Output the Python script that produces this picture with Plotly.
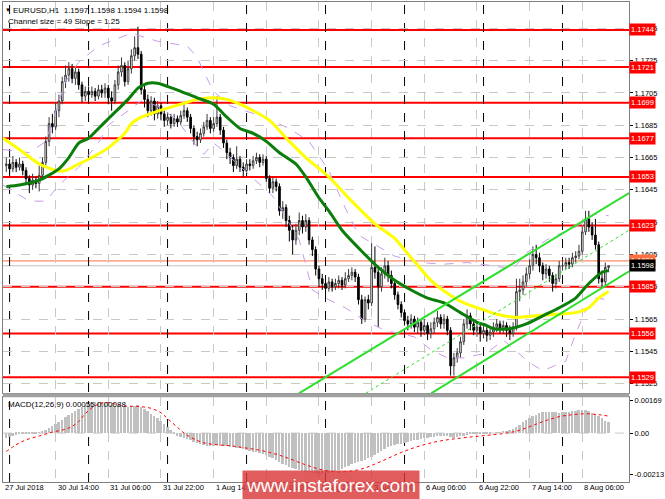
import plotly.graph_objects as go

# ---------------- data ----------------
first_open = 1.1660
closes = [
    1.1661, 1.1658, 1.1662, 1.1659, 1.1661, 1.1657, 1.1652, 1.1648, 1.1651, 1.1649,
    1.1654, 1.1662, 1.1675, 1.1686, 1.1684, 1.1694, 1.1700, 1.1712, 1.1716, 1.1720,
    1.1714, 1.1718, 1.1710, 1.1703, 1.1706, 1.1704, 1.1706, 1.1703, 1.1707, 1.1705,
    1.1708, 1.1702, 1.1700, 1.1710, 1.1718, 1.1722, 1.1712, 1.1720, 1.1728, 1.1733,
    1.1729, 1.1707, 1.1701, 1.1694, 1.1700, 1.1692, 1.1697, 1.1692, 1.1688, 1.1690,
    1.1686, 1.1689, 1.1687, 1.1691, 1.1694, 1.1690, 1.1683, 1.1678, 1.1676, 1.1680,
    1.1684, 1.1688, 1.1683, 1.1686, 1.1690, 1.1682, 1.1674, 1.1668, 1.1665, 1.1660,
    1.1664, 1.1659, 1.1657, 1.1661, 1.1660, 1.1663, 1.1665, 1.1662, 1.1664, 1.1652,
    1.1646, 1.1650, 1.1647, 1.1632, 1.1634, 1.1626, 1.1620, 1.1614, 1.1620, 1.1626,
    1.1622, 1.1626, 1.1614, 1.1608, 1.1596, 1.1590, 1.1587, 1.1584, 1.1588, 1.1585,
    1.1587, 1.1589, 1.1586, 1.1590, 1.1592, 1.1594, 1.1591, 1.1577, 1.1565, 1.1577,
    1.1575, 1.1597, 1.1594, 1.1585, 1.1593, 1.1598, 1.1592, 1.1587, 1.1580, 1.1574,
    1.1569, 1.1564, 1.1562, 1.1565, 1.1560, 1.1563, 1.1558, 1.1561, 1.1556, 1.1559,
    1.1563, 1.1566, 1.1562, 1.1565, 1.1558, 1.1536, 1.1541, 1.1544, 1.1551, 1.1562,
    1.1567, 1.1562, 1.1558, 1.1560, 1.1556, 1.1558, 1.1555, 1.1557, 1.1560, 1.1562,
    1.1559, 1.1561, 1.1558, 1.1556, 1.1560, 1.1582, 1.1583, 1.1588, 1.1593, 1.1598,
    1.1605, 1.1603, 1.1598, 1.1593, 1.1596, 1.1592, 1.1587, 1.1590, 1.1598, 1.1598,
    1.1600, 1.1599, 1.1603, 1.1604, 1.1607, 1.1619, 1.1627, 1.1622, 1.1617, 1.1611,
    1.1590, 1.1588, 1.1597, 1.1598,
]
highs = [
    1.1665, 1.1664, 1.1666, 1.1664, 1.1665, 1.1663, 1.1659, 1.1654, 1.1655, 1.1653,
    1.1660, 1.1665, 1.1678, 1.1690, 1.1692, 1.1699, 1.1704, 1.1715, 1.1722, 1.1724,
    1.1723, 1.1721, 1.1720, 1.1712, 1.1709, 1.1709, 1.1709, 1.1708, 1.1710, 1.1710,
    1.1711, 1.1710, 1.1706, 1.1713, 1.1722, 1.1727, 1.1724, 1.1725, 1.1732, 1.1740,
    1.1746, 1.1731, 1.1710, 1.1704, 1.1703, 1.1702, 1.1700, 1.1699, 1.1694, 1.1693,
    1.1692, 1.1692, 1.1691, 1.1694, 1.1698, 1.1696, 1.1692, 1.1685, 1.1681, 1.1683,
    1.1687, 1.1692, 1.1690, 1.1690, 1.1703, 1.1692, 1.1684, 1.1676, 1.1671, 1.1667,
    1.1672, 1.1666, 1.1662, 1.1664, 1.1664, 1.1666, 1.1668, 1.1667, 1.1667, 1.1666,
    1.1654, 1.1653, 1.1652, 1.1649, 1.1638, 1.1636, 1.1629, 1.1623, 1.1624, 1.1631,
    1.1629, 1.1630, 1.1628, 1.1616, 1.1610, 1.1598, 1.1593, 1.1590, 1.1591, 1.1590,
    1.1590, 1.1592, 1.1591, 1.1594, 1.1596, 1.1597, 1.1596, 1.1593, 1.1580, 1.1579,
    1.1580, 1.1612, 1.1610, 1.1598, 1.1597, 1.1603, 1.1601, 1.1595, 1.1589, 1.1582,
    1.1576, 1.1571, 1.1567, 1.1568, 1.1567, 1.1566, 1.1565, 1.1565, 1.1563, 1.1563,
    1.1566, 1.1570, 1.1568, 1.1568, 1.1567, 1.1560, 1.1544, 1.1547, 1.1554, 1.1565,
    1.1571, 1.1569, 1.1564, 1.1563, 1.1562, 1.1561, 1.1560, 1.1560, 1.1563, 1.1565,
    1.1564, 1.1564, 1.1563, 1.1561, 1.1563, 1.1590, 1.1590, 1.1592, 1.1597, 1.1602,
    1.1610, 1.1611, 1.1606, 1.1600, 1.1599, 1.1598, 1.1594, 1.1593, 1.1601, 1.1602,
    1.1603, 1.1603, 1.1606, 1.1607, 1.1611, 1.1623, 1.1632, 1.1632, 1.1625, 1.1627,
    1.1613, 1.1595, 1.1600, 1.1598,
]
lows = [
    1.1656, 1.1655, 1.1656, 1.1656, 1.1657, 1.1654, 1.1649, 1.1643, 1.1645, 1.1646,
    1.1644, 1.1651, 1.1660, 1.1672, 1.1680, 1.1682, 1.1690, 1.1698, 1.1708, 1.1712,
    1.1711, 1.1710, 1.1707, 1.1699, 1.1700, 1.1701, 1.1702, 1.1700, 1.1701, 1.1702,
    1.1702, 1.1698, 1.1694, 1.1698, 1.1707, 1.1715, 1.1709, 1.1710, 1.1717, 1.1725,
    1.1726, 1.1704, 1.1696, 1.1690, 1.1691, 1.1688, 1.1689, 1.1688, 1.1684, 1.1685,
    1.1683, 1.1684, 1.1684, 1.1685, 1.1689, 1.1687, 1.1680, 1.1673, 1.1672, 1.1674,
    1.1678, 1.1682, 1.1680, 1.1681, 1.1684, 1.1679, 1.1671, 1.1664, 1.1661, 1.1656,
    1.1658, 1.1656, 1.1653, 1.1655, 1.1657, 1.1658, 1.1661, 1.1659, 1.1660, 1.1650,
    1.1643, 1.1643, 1.1644, 1.1629, 1.1627, 1.1622, 1.1613, 1.1605, 1.1611, 1.1617,
    1.1618, 1.1619, 1.1611, 1.1604, 1.1592, 1.1585, 1.1583, 1.1581, 1.1582, 1.1582,
    1.1583, 1.1584, 1.1583, 1.1584, 1.1588, 1.1589, 1.1588, 1.1574, 1.1562, 1.1563,
    1.1571, 1.1573, 1.1590, 1.1560, 1.1582, 1.1590, 1.1588, 1.1584, 1.1577, 1.1571,
    1.1566, 1.1561, 1.1558, 1.1559, 1.1557, 1.1556, 1.1554, 1.1555, 1.1552, 1.1553,
    1.1556, 1.1560, 1.1559, 1.1559, 1.1555, 1.1530, 1.1530, 1.1538, 1.1541, 1.1549,
    1.1559, 1.1558, 1.1555, 1.1554, 1.1551, 1.1553, 1.1551, 1.1552, 1.1554, 1.1557,
    1.1556, 1.1556, 1.1554, 1.1552, 1.1554, 1.1558, 1.1576, 1.1580, 1.1585, 1.1590,
    1.1595, 1.1599, 1.1594, 1.1589, 1.1590, 1.1588, 1.1582, 1.1584, 1.1588, 1.1595,
    1.1596, 1.1596, 1.1597, 1.1600, 1.1602, 1.1605, 1.1617, 1.1619, 1.1614, 1.1608,
    1.1587, 1.1584, 1.1586, 1.1594,
]

# moving averages (bar index, price)
green_ma_bars = [0, 4, 10, 16, 19, 22, 25, 28, 31, 34, 37, 40, 43, 46, 53, 58, 63, 67, 71, 75, 79,
                 83, 88, 91, 95, 98, 102, 108, 113, 118, 123, 128, 133, 138, 143, 146, 148, 153,
                 158, 163, 168, 173, 177, 181, 183]
green_ma_vals = [1.1647, 1.1648, 1.1651, 1.1658, 1.1665, 1.1674, 1.1677, 1.1683, 1.1689, 1.1695,
                 1.1701, 1.1708, 1.1711, 1.1711, 1.1706, 1.1702, 1.1698, 1.1690, 1.1683, 1.1680,
                 1.1675, 1.1668, 1.1661, 1.1653, 1.1640, 1.1632, 1.1620, 1.1607, 1.1597, 1.1589,
                 1.1583, 1.1578, 1.1575, 1.1569, 1.1563, 1.1561, 1.1559, 1.1559, 1.1562, 1.1567,
                 1.1572, 1.1578, 1.1587, 1.1594, 1.1595]
yellow_ma_bars = [-1, 4, 10, 15, 18, 22, 26, 31, 36, 38, 41, 45, 48, 53, 58, 63, 67, 71, 75, 80,
                  86, 91, 98, 104, 112, 118, 123, 129, 134, 139, 146, 149, 155, 161, 167, 173,
                  177, 180, 183]
yellow_ma_vals = [1.1677, 1.1670, 1.1661, 1.1657, 1.1657, 1.1661, 1.1665, 1.1671, 1.1680, 1.1686,
                  1.1690, 1.1693, 1.1695, 1.1698, 1.1701, 1.1702, 1.1701, 1.1698, 1.1694, 1.1688,
                  1.1675, 1.1665, 1.1653, 1.1640, 1.1624, 1.1615, 1.1603, 1.1589, 1.1581, 1.1575,
                  1.1570, 1.1568, 1.1566, 1.1567, 1.1568, 1.1569, 1.1572, 1.1578, 1.1582]
band_up_bars = [-1, 7, 12, 15, 18, 22, 25, 28, 38, 46, 55, 58, 61, 63, 68, 77, 86, 92, 98, 102,
                107, 112, 118, 125, 133, 140, 148, 154, 158, 165, 173, 179, 183]
band_up_vals = [1.1670, 1.1668, 1.1675, 1.1694, 1.1712, 1.1724, 1.1729, 1.1734, 1.1742, 1.1737,
                1.1734, 1.1727, 1.1714, 1.1706, 1.1697, 1.1691, 1.1683, 1.1675, 1.1657, 1.1638,
                1.1617, 1.1611, 1.1604, 1.1600, 1.1599, 1.1600, 1.1598, 1.1596, 1.1606, 1.1615,
                1.1622, 1.1630, 1.1629]
band_lo_bars = [-1, 7, 12, 16, 22, 28, 31, 37, 41, 46, 52, 57, 60, 63, 66, 74, 81, 89, 93, 98,
                103, 109, 115, 124, 129, 134, 139, 146, 151, 159, 163, 170, 173, 176, 179, 183]
band_lo_vals = [1.1648, 1.1638, 1.1638, 1.1648, 1.1659, 1.1674, 1.1685, 1.1694, 1.1700, 1.1697,
                1.1688, 1.1674, 1.1667, 1.1674, 1.1669, 1.1654, 1.1641, 1.1614, 1.1583, 1.1577,
                1.1572, 1.1564, 1.1558, 1.1554, 1.1546, 1.1541, 1.1541, 1.1544, 1.1552, 1.1538,
                1.1533, 1.1539, 1.1556, 1.1570, 1.1578, 1.1577]

# equidistant channel (two anchor points per line)
chan_up_bars, chan_up_vals = [88.9, 189.2], [1.1519, 1.1643]
chan_mid_bars, chan_mid_vals = [109.2, 189.2], [1.1519, 1.1620]
chan_lo_bars, chan_lo_vals = [129.1, 189.2], [1.1519, 1.15946]

levels = [1.1744, 1.1721, 1.1699, 1.1677, 1.1653, 1.1623, 1.1585, 1.1556, 1.1529]
orange_level = 1.1601
bid_level = 1.1598
price_ticks = [1.1525, 1.1545, 1.1565, 1.1585, 1.1605, 1.1625, 1.1645, 1.1665, 1.1685,
               1.1705, 1.1725, 1.1745]

# MACD histogram (x1e-5)
macd_hist = [
    -25, -20, -15, -10, -8, -5, -6, -4, -3, -2,
    2, 8, 15, 25, 35, 45, 55, 65, 80, 95,
    105, 115, 125, 135, 142, 150, 155, 158, 160, 158,
    155, 150, 145, 140, 138, 135, 133, 135, 138, 140,
    142, 135, 125, 115, 100, 90, 75, 60, 45, 30,
    15, -5, -15, -22, -28, -32, -38, -45, -52, -58,
    -62, -65, -66, -65, -64, -66, -68, -70, -72, -75,
    -78, -80, -84, -88, -92, -96, -100, -105, -110, -115,
    -122, -130, -140, -150, -160, -168, -175, -182, -188, -192,
    -196, -200, -203, -206, -208, -210, -210, -208, -205, -200,
    -195, -190, -185, -178, -170, -162, -155, -150, -145, -138,
    -130, -122, -112, -102, -92, -82, -75, -68, -62, -58,
    -55, -50, -46, -42, -38, -34, -30, -27, -25, -22,
    -20, -18, -16, -15, -14, -20, -24, -22, -18, -14,
    -10, -8, -6, -5, -4, -3, -2, -1, 0, 2,
    4, 6, 10, 14, 20, 30, 42, 55, 65, 75,
    85, 95, 102, 108, 110, 110, 108, 106, 105, 106,
    108, 110, 112, 115, 118, 120, 118, 112, 105, 98,
    88, 75, 62, 55,
]
signal_bars = [0, 3, 6, 10, 14, 18, 20, 22, 24, 26, 28, 30, 33, 36, 40, 44, 47, 49, 52, 54, 57,
               60, 64, 68, 72, 76, 80, 84, 88, 92, 96, 100, 104, 108, 112, 116, 120, 124, 128,
               132, 136, 140, 144, 148, 152, 156, 160, 164, 168, 172, 176, 180, 183]
signal_vals = [-95, -60, -35, -15, 5, 20, 35, 60, 100, 130, 150, 158, 150, 140, 138, 128, 105, 75,
               30, 0, -30, -50, -60, -65, -75, -85, -100, -120, -145, -170, -190, -200, -198,
               -185, -160, -130, -100, -75, -55, -40, -30, -22, -15, -8, 0, 15, 40, 65, 85, 95,
               100, 95, 88]

tick_bars = [-1, 15, 31, 47, 63, 79, 95, 111, 127, 143, 159, 175]
tick_text = ["27 Jul 2018", "30 Jul 14:00", "31 Jul 06:00", "31 Jul 22:00", "1 Aug 14:00",
             "2 Aug 06:00", "2 Aug 22:00", "3 Aug 14:00", "6 Aug 06:00", "6 Aug 22:00",
             "7 Aug 14:00", "8 Aug 06:00"]
day_bars = [1, 25, 49, 73, 97, 121, 145, 169]

# ---------------- figure ----------------
FONT = "Liberation Sans, Arial, sans-serif"
n = min(len(closes), len(highs), len(lows))
bars = list(range(n))
opens = [first_open] + closes[:n - 1]

fig = go.Figure()

for bx, vy in [(band_up_bars, band_up_vals), (band_lo_bars, band_lo_vals)]:
    fig.add_trace(go.Scatter(x=bx, y=vy, mode="lines",
                             line=dict(color="#c89be8", width=1, dash="dash"), hoverinfo="skip",
                             showlegend=False, xaxis="x", yaxis="y"))

fig.add_trace(go.Candlestick(
    x=bars, open=opens, high=highs[:n], low=lows[:n], close=closes[:n],
    increasing=dict(line=dict(color="#3a3a3a", width=1), fillcolor="white"),
    decreasing=dict(line=dict(color="black", width=1), fillcolor="black"),
    whiskerwidth=0, showlegend=False, xaxis="x", yaxis="y", hoverinfo="skip"))

fig.add_trace(go.Scatter(x=yellow_ma_bars, y=yellow_ma_vals, mode="lines",
                         line=dict(color="#ffff00", width=3, shape="spline", smoothing=0.6),
                         showlegend=False, xaxis="x", yaxis="y", hoverinfo="skip"))
fig.add_trace(go.Scatter(x=green_ma_bars, y=green_ma_vals, mode="lines",
                         line=dict(color="#0a7d0a", width=3, shape="spline", smoothing=0.6),
                         showlegend=False, xaxis="x", yaxis="y", hoverinfo="skip"))

for bx, vy, dash, w in [(chan_up_bars, chan_up_vals, "solid", 2),
                        (chan_lo_bars, chan_lo_vals, "solid", 2),
                        (chan_mid_bars, chan_mid_vals, "dot", 1)]:
    fig.add_trace(go.Scatter(x=bx, y=vy, mode="lines",
                             line=dict(color="#2ee02e", width=w, dash=dash),
                             showlegend=False, xaxis="x", yaxis="y", hoverinfo="skip"))

fig.add_trace(go.Bar(x=list(range(len(macd_hist))), y=[v * 1e-5 for v in macd_hist],
                     marker=dict(color="#c0c0c0", line=dict(width=0)), width=0.6,
                     showlegend=False, xaxis="x2", yaxis="y2", hoverinfo="skip"))
fig.add_trace(go.Scatter(x=signal_bars, y=[v * 1e-5 for v in signal_vals], mode="lines",
                         line=dict(color="#ff0000", width=1, dash="dot", shape="spline"),
                         showlegend=False, xaxis="x2", yaxis="y2", hoverinfo="skip"))

shapes = []
for lv in levels:
    shapes.append(dict(type="line", xref="paper", x0=0, x1=1, yref="y", y0=lv, y1=lv,
                       line=dict(color="#ff0000", width=2), layer="below"))
shapes.append(dict(type="line", xref="paper", x0=0, x1=1, yref="y", y0=orange_level,
                   y1=orange_level, line=dict(color="#ff7040", width=1), layer="below"))
shapes.append(dict(type="line", xref="paper", x0=0, x1=1, yref="y", y0=bid_level,
                   y1=bid_level, line=dict(color="#c0c0c0", width=1), layer="below"))
for db in day_bars:
    shapes.append(dict(type="line", xref="x", x0=db, x1=db, yref="paper", y0=0, y1=1,
                       line=dict(color="black", width=1, dash="dash"), layer="below"))
shapes.append(dict(type="line", xref="paper", x0=0, x1=1, yref="y2", y0=0, y1=0,
                   line=dict(color="#c8c8c8", width=1, dash="dash"), layer="below"))
shapes.append(dict(type="rect", xref="paper", x0=0, x1=1, yref="paper", y0=0.1767, y1=0.185,
                   fillcolor="#a0a0a0", line=dict(width=0), layer="above"))

LBL = dict(family=FONT, size=7.5, color="white")
annotations = []
for lv in levels:
    annotations.append(dict(xref="paper", x=1, xanchor="left", xshift=0, yref="y", y=lv,
                            text=f"{lv:.4f}", showarrow=False, bgcolor="#ff0000",
                            font=LBL, borderpad=1))
annotations.append(dict(xref="paper", x=1, xanchor="left", xshift=0, yref="y", y=orange_level,
                        text=f"{orange_level:.4f}", showarrow=False, bgcolor="#ff7040",
                        font=LBL, borderpad=1))
annotations.append(dict(xref="paper", x=1, xanchor="left", xshift=0, yref="y", y=bid_level,
                        text=f"{bid_level:.4f}", showarrow=False, bgcolor="#000000",
                        font=LBL, borderpad=1))
for tb, tt in zip(tick_bars, tick_text):
    annotations.append(dict(xref="x", x=tb, xanchor="left", xshift=0, yref="paper", y=0,
                            yanchor="top", yshift=1, text=tt, showarrow=False,
                            font=dict(family=FONT, size=7.5, color="black")))
annotations.append(dict(xref="paper", x=0, xanchor="left", xshift=0, yref="paper", y=1,
                        yanchor="top", yshift=-3, text="▼", showarrow=False,
                        font=dict(family=FONT, size=6, color="black")))
annotations.append(dict(xref="paper", x=0, xanchor="left", xshift=8, yref="paper", y=1,
                        yanchor="top", yshift=-2,
                        text="EURUSD,H1  1.1597 1.1598 1.1594 1.1598", showarrow=False,
                        font=dict(family=FONT, size=8, color="black")))
annotations.append(dict(xref="paper", x=0, xanchor="left", xshift=3, yref="paper", y=1,
                        yanchor="top", yshift=-13, text="Channel size = 49 Slope = 1.25",
                        showarrow=False, font=dict(family=FONT, size=8, color="black")))
annotations.append(dict(xref="paper", x=0, xanchor="left", xshift=3, yref="paper", y=0.1767,
                        yanchor="top", yshift=-1, text="MACD(12,26,9) 0.00055 0.00088",
                        showarrow=False, font=dict(family=FONT, size=8, color="black")))
annotations.append(dict(xref="paper", x=0.5247, xanchor="center", yref="paper", y=-0.0062,
                        yanchor="middle", text="www.instaforex.com", showarrow=False,
                        width=176, height=28, bgcolor="rgba(218,56,56,0.82)", borderpad=0,
                        font=dict(family=FONT, size=19, color="white")))

axis_common = dict(range=[-1, 189.2], showticklabels=False, tickvals=tick_bars,
                   showgrid=True, gridcolor="#c8c8c8", griddash="dash", gridwidth=1,
                   zeroline=False, showline=True, linecolor="#808080", mirror=True, ticks="")

fig.update_layout(
    width=665, height=499,
    margin=dict(l=3, r=33, t=1, b=17),
    paper_bgcolor="white", plot_bgcolor="white",
    showlegend=False, bargap=0,
    font=dict(family=FONT, size=8, color="black"),
    xaxis=dict(domain=[0, 1], anchor="y", rangeslider=dict(visible=False), **axis_common),
    xaxis2=dict(domain=[0, 1], anchor="y2", matches="x", **axis_common),
    yaxis=dict(domain=[0.185, 1], range=[1.15191, 1.17613], side="right",
               tickvals=price_ticks, ticktext=[f"{v:.4f}" for v in price_ticks],
               tickfont=dict(family=FONT, size=7.5, color="black"), ticks="outside",
               ticklen=3, tickcolor="black", showgrid=True, gridcolor="#c8c8c8",
               griddash="dash", zeroline=False, showline=True, linecolor="#808080",
               mirror=True),
    yaxis2=dict(domain=[0, 0.1767], range=[-0.002526, 0.001856], side="right",
                tickvals=[0.00169, 0, -0.00213], ticktext=["0.00169", "0.00", "-0.00213"],
                tickfont=dict(family=FONT, size=7.5, color="black"), ticks="outside",
                ticklen=3, tickcolor="black", showgrid=False, zeroline=False,
                showline=True, linecolor="#808080", mirror=True),
    shapes=shapes, annotations=annotations,
)

fig.write_html("out.html", config={"displayModeBar": False},
               post_script="document.body.style.margin='0px';document.body.style.overflow='hidden';")
